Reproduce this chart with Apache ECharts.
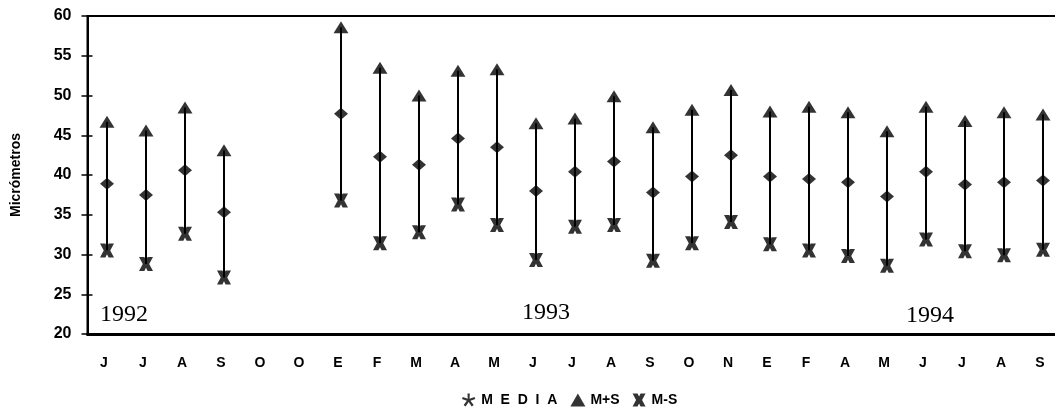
<!DOCTYPE html>
<html>
<head>
<meta charset="utf-8">
<script src="https://cdn.jsdelivr.net/npm/echarts@6/dist/echarts.min.js"></script>
<style>
html,body{margin:0;padding:0;background:#fff;}
#c{width:1055px;height:413px;}
</style>
</head>
<body>
<div id="c"></div>
<script>
// Month categories (1992: J..O O, 1993: E..N, 1994: E..S)
var categories = ['J','J','A','S','O','O','E','F','M','A','M','J','J','A','S','O','N','E','F','A','M','J','J','A','S'];
// M+S (media + desviación)
var mediaPlusS = [46.7, 45.6, 48.5, 43.1, null, null, 58.6, 53.5, 50.0, 53.1, 53.3, 46.5, 47.1, 49.9, 46.0, 48.2, 50.7, 48.0, 48.6, 47.9, 45.5, 48.6, 46.8, 47.9, 47.6];
// MEDIA
var media = [38.9, 37.5, 40.6, 35.3, null, null, 47.7, 42.3, 41.3, 44.6, 43.5, 38.0, 40.4, 41.7, 37.8, 39.8, 42.5, 39.8, 39.5, 39.1, 37.3, 40.4, 38.8, 39.1, 39.3];
// M-S (media - desviación)
var mediaMinusS = [30.5, 28.8, 32.6, 27.1, null, null, 36.8, 31.4, 32.8, 36.3, 33.7, 29.3, 33.5, 33.7, 29.2, 31.4, 34.1, 31.3, 30.5, 29.8, 28.6, 31.9, 30.4, 29.9, 30.6];
var yearLabels = ['1992', '1993', '1994'];
var yMin = 20, yMax = 60, yStep = 5;

var xPath = 'path://M0,0 L5,0 L6.5,3 L8,0 L13,0 L9.5,6.5 L13,13 L8,13 L6.5,10 L5,13 L0,13 L3.5,6.5 Z';
var starPath = 'path://M4.2,0 L5.8,0 L5.6,3.6 L9,2.3 L9.5,3.8 L6.2,4.9 L8.4,7.8 L7.1,8.8 L5,5.8 L2.9,8.8 L1.6,7.8 L3.8,4.9 L0.5,3.8 L1,2.3 L4.4,3.6 Z';

var rangeData = [];
for (var i = 0; i < categories.length; i++) {
  if (mediaPlusS[i] != null && mediaMinusS[i] != null) {
    rangeData.push([i, mediaMinusS[i], mediaPlusS[i]]);
  }
}

var chart = echarts.init(document.getElementById('c'), null, {renderer: 'canvas'});
var fontSans = '"Liberation Sans", Arial, sans-serif';
chart.setOption({
  animation: false,
  backgroundColor: '#fff',
  grid: {left: 87.5, right: -7.5, top: 16, bottom: 79, show: true, borderColor: '#000', borderWidth: 2, backgroundColor: 'transparent', outerBoundsMode: 'none', containLabel: false},
  xAxis: {
    type: 'category',
    data: categories,
    boundaryGap: true,
    axisLine: {lineStyle: {color: '#000', width: 3}},
    axisTick: {alignWithLabel: true, length: 4, lineStyle: {color: '#000', width: 1.5}},
    axisLabel: {color: '#000', fontFamily: fontSans, fontWeight: 'bold', fontSize: 14, margin: 22, padding: [0, 6, 0, 0], interval: 0},
    splitLine: {show: false}
  },
  yAxis: [{
    type: 'value',
    position: 'left',
    min: yMin, max: yMax, interval: yStep,
    name: 'Micrómetros',
    nameLocation: 'middle',
    nameGap: 64,
    nameTextStyle: {color: '#000', fontFamily: fontSans, fontWeight: 'bold', fontSize: 14},
    axisLine: {show: true, lineStyle: {color: '#000', width: 2}},
    axisTick: {show: true, length: 6, lineStyle: {color: '#000', width: 1.5}},
    axisLabel: {color: '#000', fontFamily: fontSans, fontWeight: 'bold', fontSize: 16, margin: 16},
    splitLine: {show: false}
  }, {
    type: 'value',
    position: 'left',
    offset: 0,
    min: yMin, max: yMax, interval: yStep,
    axisLine: {show: false},
    axisTick: {show: true, inside: true, length: 5, lineStyle: {color: '#000', width: 1.5}},
    axisLabel: {show: false},
    splitLine: {show: false}
  }],
  legend: {
    left: 457, top: 388,
    itemWidth: 15, itemHeight: 13, itemGap: 13,
    textStyle: {color: '#000', fontFamily: fontSans, fontWeight: 'bold', fontSize: 14},
    formatter: function (n) { return n === 'MEDIA' ? 'M  E  D  I  A' : n; },
    data: [
      {name: 'MEDIA', icon: starPath, itemStyle: {color: '#000'}},
      {name: 'M+S', icon: 'triangle', itemStyle: {color: '#000'}},
      {name: 'M-S', icon: xPath, itemStyle: {color: '#000'}}
    ]
  },
  series: [{
    type: 'custom',
    name: 'rango',
    data: rangeData,
    z: 1,
    renderItem: function (params, api) {
      var p1 = api.coord([api.value(0), api.value(1)]);
      var p2 = api.coord([api.value(0), api.value(2)]);
      return {type: 'line', shape: {x1: p1[0], y1: p1[1], x2: p2[0], y2: p2[1]}, style: {stroke: '#000', lineWidth: 2}};
    },
    encode: {x: 0, y: [1, 2]}
  }, {
    type: 'scatter', name: 'M+S', data: mediaPlusS, symbol: 'triangle', symbolSize: [15, 12],
    itemStyle: {color: '#000'}, z: 3
  }, {
    type: 'scatter', name: 'MEDIA', data: media, symbol: 'diamond', symbolSize: [14, 12],
    itemStyle: {color: '#000'}, z: 3
  }, {
    type: 'scatter', name: 'M-S', data: mediaMinusS, symbol: xPath, symbolSize: [14, 14],
    itemStyle: {color: '#000'}, z: 3
  }],
  graphic: [
    {type: 'text', left: 100, top: 303, style: {text: yearLabels[0], fill: '#000', font: '24px "Liberation Serif", "Times New Roman", serif'}},
    {type: 'text', left: 522, top: 301, style: {text: yearLabels[1], fill: '#000', font: '24px "Liberation Serif", "Times New Roman", serif'}},
    {type: 'text', left: 906, top: 304, style: {text: yearLabels[2], fill: '#000', font: '24px "Liberation Serif", "Times New Roman", serif'}}
  ]
});
</script>
</body>
</html>
